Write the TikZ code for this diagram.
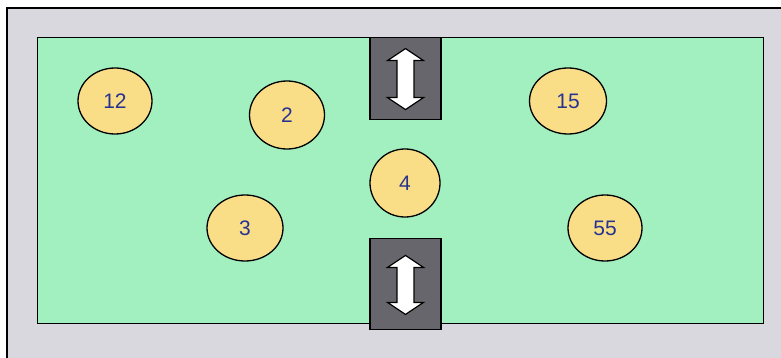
\documentclass[tikz,border=0pt]{standalone}
\usepackage{fontspec}
\setsansfont{Liberation Sans}
\usetikzlibrary{shapes.geometric}
\definecolor{fieldgreen}{RGB}{162,240,192}
\definecolor{framegray}{RGB}{216,216,222}
\definecolor{gategray}{RGB}{102,102,108}
\definecolor{ballyellow}{RGB}{250,222,135}
\definecolor{numblue}{RGB}{40,50,145}

\begin{document}
\begin{tikzpicture}[
  x=1pt, y=-1pt,
  font=\sffamily\fontsize{21}{23}\selectfont,
  ball/.style={ellipse, draw=black, line width=1.3pt, fill=ballyellow, text=numblue,
               minimum width=74pt, minimum height=66pt, inner sep=0pt},
  gate/.style={draw=black, line width=1.2pt, fill=gategray, minimum width=71pt, inner sep=0pt},
  swing/.style={draw=black, line width=1.2pt, fill=white, line join=miter},
  pics/swing/.style={code={
    \path[swing] (0,-#1) -- (18,-#1+12) -- (8.5,-#1+12) -- (8.5,#1-12)
      -- (18,#1-12) -- (0,#1) -- (-18,#1-12) -- (-8.5,#1-12)
      -- (-8.5,-#1+12) -- (-18,-#1+12) -- cycle;
  }}
]
\useasboundingbox (0,0) rectangle (781,358);

% outer frame, open to the right and bottom
\fill[framegray] (7,8) rectangle (781,358);
\draw[line width=1.2pt] (7,358) -- (7,8) -- (781,8);

% playing field
\node[draw=black, line width=1.2pt, fill=fieldgreen, minimum width=726pt,
      minimum height=286pt, inner sep=0pt, anchor=north west] (field) at (36.5,37) {};

% gates
\node[gate, minimum height=82pt, anchor=north] (topgate) at (405.5,37) {};
\node[gate, minimum height=91pt, anchor=south] (botgate) at (405.5,330) {};
\pic at ([yshift=-0.5pt]topgate.center) {swing=30.5};
\pic at ([yshift=-1pt]botgate.center) {swing=29.5};

% balls
\node[ball] (b12) at (115,101) {12};
\node[ball, minimum width=75pt, minimum height=68pt] (b2) at (287,115) {2};
\node[ball, minimum width=77pt] (b15) at (568,101) {15};
\node[ball, minimum width=70pt, minimum height=68pt] (b4) at (405,183) {4};
\node[ball, minimum width=76pt] (b3) at (245,228) {3};
\node[ball] (b55) at (605,228) {55};
\end{tikzpicture}
\end{document}
